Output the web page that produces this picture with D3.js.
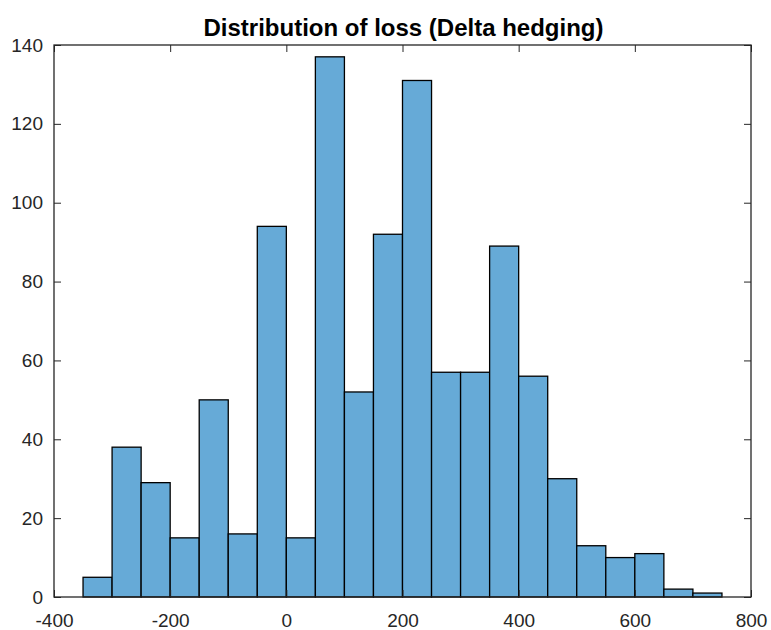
<!DOCTYPE html>
<html>
<head>
<meta charset="utf-8">
<script src="https://cdn.jsdelivr.net/npm/d3@7"></script>
<style>
  body { margin: 0; background: #fff; }
  svg text { font-family: "Liberation Sans", Arial, sans-serif; fill: #262626; }
</style>
</head>
<body>
<div id="chart"></div>
<script>
// histogram bins (left edge, width 50) and counts
const binStart = [-350, -300, -250, -200, -150, -100, -50, 0, 50, 100, 150,
                  200, 250, 300, 350, 400, 450, 500, 550, 600, 650, 700];
const binWidth = 50;
const counts = [5, 38, 29, 15, 50, 16, 94, 15, 137, 52, 92,
                131, 57, 57, 89, 56, 30, 13, 10, 11, 2, 1];
const xTicks = [-400, -200, 0, 200, 400, 600, 800];
const yTicks = [0, 20, 40, 60, 80, 100, 120, 140];

const width = 771, height = 630;
const margin = {top: 45, right: 20, bottom: 33, left: 54};
const iw = 751 - margin.left, ih = 597 - margin.top;

const bins = binStart.map((s, i) => ({x0: s, x1: s + binWidth, n: counts[i]}));

const x = d3.scaleLinear().domain([-400, 800]).range([0, iw]);
const y = d3.scaleLinear().domain([0, 140]).range([ih, 0]);

const svg = d3.select("#chart").append("svg")
    .attr("width", width)
    .attr("height", height);

const g = svg.append("g")
    .attr("transform", `translate(${margin.left},${margin.top})`);

g.selectAll("rect.bar")
  .data(bins)
  .join("rect")
    .attr("class", "bar")
    .attr("x", d => x(d.x0))
    .attr("y", d => y(d.n))
    .attr("width", d => x(d.x1) - x(d.x0))
    .attr("height", d => y(0) - y(d.n))
    .attr("fill", "#66AAD7")
    .attr("stroke", "#000")
    .attr("stroke-width", 1.3);

const tickLen = 7;
const fmt = d => String(d);  // plain hyphen minus, like the original
const styleAxis = (sel, labels) => {
  sel.select(".domain").remove();
  sel.selectAll(".tick line").attr("stroke", "#262626");
  if (!labels) sel.selectAll(".tick text").remove();
  else sel.selectAll(".tick text").style("font-size", "19px").attr("fill", "#262626");
};

// bottom / left axes with inward ticks
g.append("g")
    .attr("transform", `translate(0,${ih})`)
    .call(d3.axisBottom(x).tickValues(xTicks).tickFormat(fmt).tickSize(-tickLen).tickPadding(17))
    .call(s => styleAxis(s, true));

g.append("g")
    .call(d3.axisLeft(y).tickValues(yTicks).tickFormat(fmt).tickSize(-tickLen).tickPadding(11))
    .call(s => styleAxis(s, true));

// mirrored ticks on top / right (box on)
g.append("g")
    .call(d3.axisTop(x).tickValues(xTicks).tickSize(-tickLen))
    .call(s => styleAxis(s, false));

g.append("g")
    .attr("transform", `translate(${iw},0)`)
    .call(d3.axisRight(y).tickValues(yTicks).tickSize(-tickLen))
    .call(s => styleAxis(s, false));

g.append("rect")
    .attr("x", 0)
    .attr("y", 0)
    .attr("width", iw)
    .attr("height", ih)
    .attr("fill", "none")
    .attr("stroke", "#262626")
    .attr("stroke-width", 1.3);

svg.append("text")
    .attr("x", 403.5)
    .attr("y", 36)
    .attr("text-anchor", "middle")
    .style("font-size", "24px")
    .style("font-weight", "bold")
    .style("fill", "#000")
    .text("Distribution of loss (Delta hedging)");
</script>
</body>
</html>
